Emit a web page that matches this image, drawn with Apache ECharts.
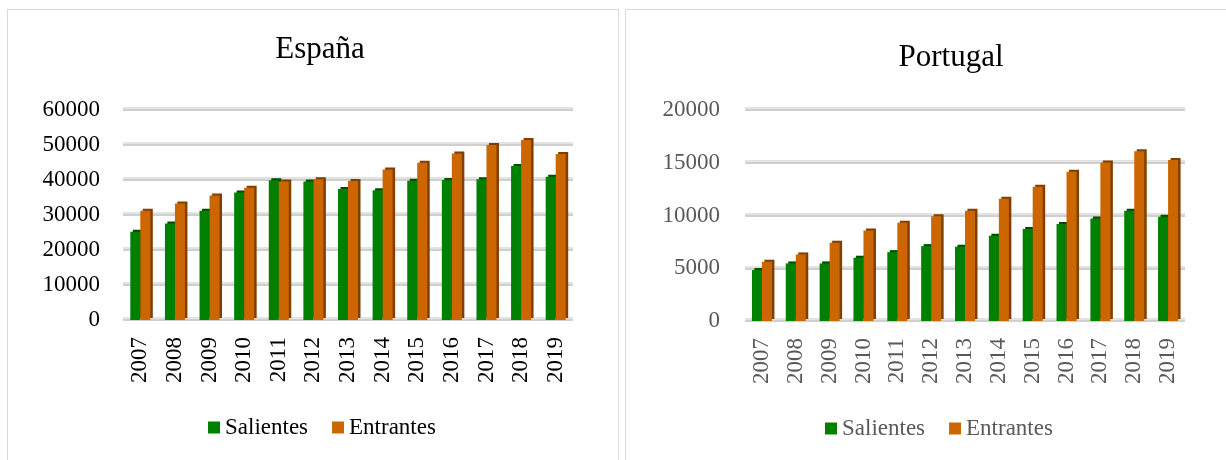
<!DOCTYPE html>
<html>
<head>
<meta charset="utf-8">
<script src="https://cdn.jsdelivr.net/npm/echarts@6/dist/echarts.min.js"></script>
<style>
  html, body { margin: 0; padding: 0; background: #fff; overflow: hidden; }
  #wrap { position: relative; width: 1226px; height: 460px; }
  .panel { position: absolute; top: 9px; height: 470px; border: 1px solid #d9d9d9; box-sizing: border-box; }
  #chart { position: absolute; left: 0; top: 0; width: 1226px; height: 460px; }
</style>
</head>
<body>
<div id="wrap">
  <div class="panel" style="left:7px; width:612px;"></div>
  <div class="panel" style="left:625px; width:620px;"></div>
  <div id="chart"></div>
</div>
<script>
const years = ['2007','2008','2009','2010','2011','2012','2013','2014','2015','2016','2017','2018','2019'];
const seriesNames = ['Salientes', 'Entrantes'];
const titles = ['España', 'Portugal'];

const espanaSalientes = [25200, 27600, 31200, 36400, 39900, 39600, 37400, 37100, 39800, 40000, 40200, 44000, 40900];
const espanaEntrantes = [31200, 33300, 35600, 37800, 39600, 40200, 39700, 43000, 44900, 47600, 50000, 51400, 47400];

const portugalSalientes = [4830, 5460, 5460, 6000, 6530, 7100, 7040, 8080, 8710, 9190, 9720, 10450, 9880];
const portugalEntrantes = [5620, 6310, 7420, 8590, 9310, 9940, 10450, 11580, 12720, 14140, 15030, 16100, 15250];

const espanaTicks = { max: 60000, interval: 10000 };
const portugalTicks = { max: 20000, interval: 5000 };

const FONT = '"Liberation Serif", "Times New Roman", serif';
const GREEN = '#008000', ORANGE = '#cc6600';
const GREEN_SIDE = '#004d00', ORANGE_SIDE = '#7f3f00';

function barSeries(name, data, idx, color, side) {
  return {
    name: name, type: 'bar', xAxisIndex: idx, yAxisIndex: idx,
    data: data, barWidth: 10, barGap: '0%',
    itemStyle: { color: color, shadowColor: side, shadowBlur: 0, shadowOffsetX: 2.5, shadowOffsetY: -2 },
    emphasis: { disabled: true }
  };
}

function splitLine() {
  return { show: true, lineStyle: { color: '#cfcfcf', width: 2, shadowColor: '#e3e3e3', shadowOffsetY: -2, shadowBlur: 0 } };
}

const chart = echarts.init(document.getElementById('chart'), null, { renderer: 'canvas' });
chart.setOption({
  animation: false,
  backgroundColor: 'transparent',
  title: [
    { text: titles[0], left: 315, top: 29, textAlign: 'center', textStyle: { fontFamily: FONT, fontSize: 31, fontWeight: 'normal', color: '#000' } },
    { text: titles[1], left: 946, top: 37, textAlign: 'center', textStyle: { fontFamily: FONT, fontSize: 31, fontWeight: 'normal', color: '#000' } }
  ],
  legend: [
    { data: seriesNames.map(n => ({ name: n })), left: 203, top: 411, itemWidth: 12, itemHeight: 12, itemGap: 24, icon: 'rect',
      textStyle: { fontFamily: FONT, fontSize: 23, color: '#000' }, selectedMode: false },
    { data: seriesNames.map(n => ({ name: n + ' ' })), left: 820, top: 412, itemWidth: 12, itemHeight: 12, itemGap: 24, icon: 'rect',
      textStyle: { fontFamily: FONT, fontSize: 23, color: '#595959' }, selectedMode: false,
      formatter: n => n.trim() }
  ],
  grid: [
    { left: 123, right: 653, top: 110, bottom: 140 },
    { left: 745, right: 41, top: 110, bottom: 139 }
  ],
  xAxis: [0, 1].map(i => ({
    type: 'category', gridIndex: i, data: years,
    axisLine: { show: false }, axisTick: { show: false },
    axisLabel: { rotate: 90, margin: 17, fontFamily: FONT, fontSize: 23, color: i === 0 ? '#000' : '#595959' }
  })),
  yAxis: [
    { type: 'value', gridIndex: 0, min: 0, max: espanaTicks.max, interval: espanaTicks.interval,
      axisLine: { show: false }, axisTick: { show: false }, splitLine: splitLine(),
      axisLabel: { margin: 23, fontFamily: FONT, fontSize: 23, color: '#000', formatter: v => String(v) } },
    { type: 'value', gridIndex: 1, min: 0, max: portugalTicks.max, interval: portugalTicks.interval,
      axisLine: { show: false }, axisTick: { show: false }, splitLine: splitLine(),
      axisLabel: { margin: 25, fontFamily: FONT, fontSize: 23, color: '#595959', formatter: v => String(v) } }
  ],
  series: [
    barSeries(seriesNames[0], espanaSalientes, 0, GREEN, GREEN_SIDE),
    barSeries(seriesNames[1], espanaEntrantes, 0, ORANGE, ORANGE_SIDE),
    barSeries(seriesNames[0] + ' ', portugalSalientes, 1, GREEN, GREEN_SIDE),
    barSeries(seriesNames[1] + ' ', portugalEntrantes, 1, ORANGE, ORANGE_SIDE)
  ]
});
</script>
</body>
</html>
